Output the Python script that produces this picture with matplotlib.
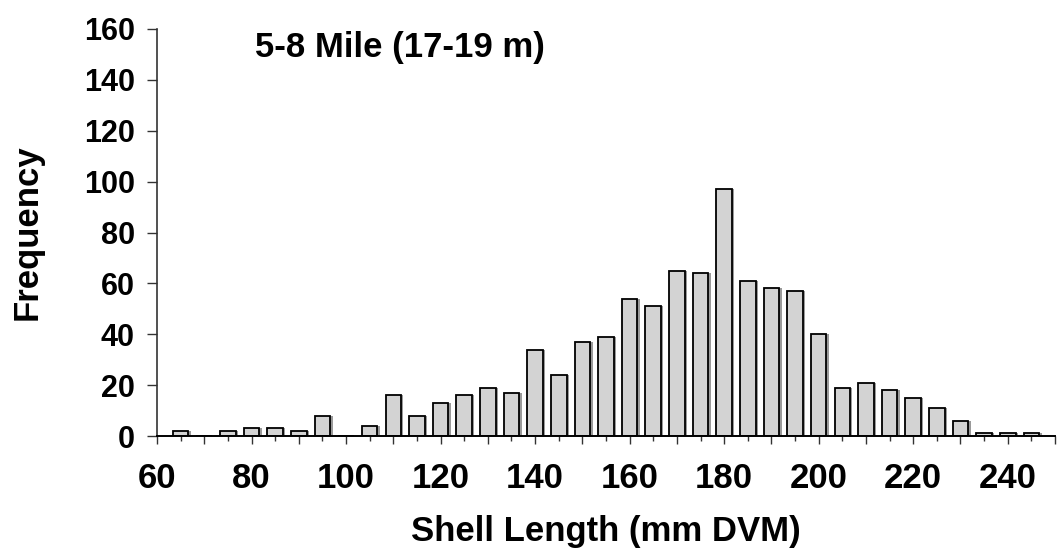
import matplotlib.pyplot as plt
import numpy as np

plt.rcParams['font.family'] = ['Liberation Sans', 'DejaVu Sans']
plt.rcParams['font.weight'] = 'bold'

# shell length classes (mm) and counts
lengths = [65, 70, 75, 80, 85, 90, 95, 100, 105, 110, 115, 120, 125, 130, 135,
           140, 145, 150, 155, 160, 165, 170, 175, 180, 185, 190, 195, 200, 205,
           210, 215, 220, 225, 230, 235, 240, 245]
counts = [2, 0, 2, 3, 3, 2, 8, 0, 4, 16, 8, 13, 16, 19, 17,
          34, 24, 37, 39, 54, 51, 65, 64, 97, 61, 58, 57, 40, 19,
          21, 18, 15, 11, 6, 1, 1, 1]
x_labels = [60, 80, 100, 120, 140, 160, 180, 200, 220, 240]
y_ticks = [0, 20, 40, 60, 80, 100, 120, 140, 160]
title = '5-8 Mile (17-19 m)'

fig = plt.figure(figsize=(10.57, 5.54), dpi=100)
ax = fig.add_axes([157 / 1057, 118 / 554, 898 / 1057, 407 / 554])

x = np.array(lengths, dtype=float)
y = np.array(counts, dtype=float)
w = 3.3

# drop shadow
ax.bar(x + 0.5, y, width=w, bottom=0, color='#9a9a9a', edgecolor='none',
       align='center', zorder=1)
ax.bar(x, y, width=w, color='#d3d3d3', edgecolor='black', linewidth=1.3,
       align='center', zorder=2)

ax.set_xlim(60, 250)
ax.set_ylim(0, 160)

ax.set_xticks(np.arange(60, 251, 10))
ax.set_xticklabels([str(v) if v in x_labels else '' for v in range(60, 251, 10)])
ax.set_xticks(np.arange(65, 250, 10), minor=True)
ax.set_yticks(y_ticks)
ax.set_yticklabels([str(v) for v in y_ticks])

ax.tick_params(axis='x', which='major', direction='out', length=6, width=1,
               labelsize=25, pad=13, color='#333333')
ax.tick_params(axis='x', which='minor', direction='out', length=3.5, width=1,
               color='#333333')
ax.tick_params(axis='y', direction='out', length=7, width=1, labelsize=22,
               pad=9, color='#333333')

for lab in ax.get_xticklabels() + ax.get_yticklabels():
    lab.set_fontweight('bold')

ax.spines['top'].set_visible(False)
ax.spines['right'].set_visible(False)
ax.spines['left'].set_linewidth(1.2)
ax.spines['bottom'].set_linewidth(1.4)
ax.spines['left'].set_color('#333333')

ax.set_xlabel('Shell Length (mm DVM)', fontsize=25, fontweight='bold', labelpad=14)
ax.set_ylabel('Frequency', fontsize=25, fontweight='bold', labelpad=29)

ax.text(0.109, 0.955, title, transform=ax.transAxes, fontsize=25,
        fontweight='bold', ha='left', va='center')

fig.savefig('out.png', dpi=100)
